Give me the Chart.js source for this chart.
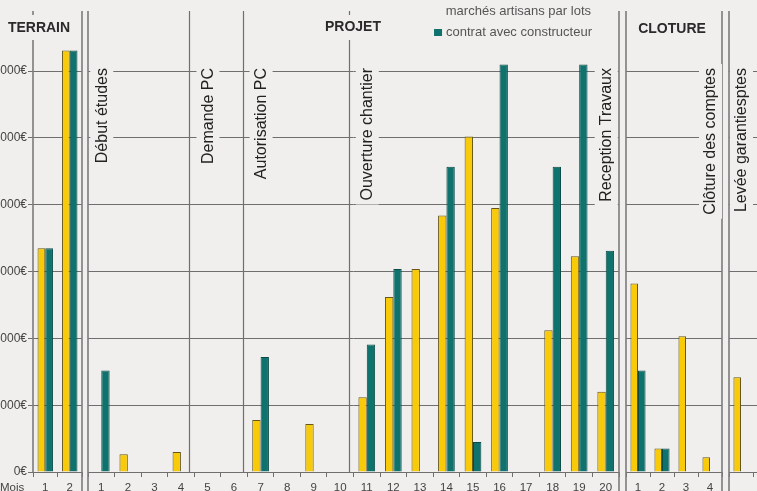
<!DOCTYPE html>
<html>
<head>
<meta charset="utf-8">
<script src="https://cdn.jsdelivr.net/npm/chart.js@4.4.1/dist/chart.umd.min.js"></script>
<style>
  html, body { margin: 0; padding: 0; background: #f1efed; overflow: hidden; }
  #wrap { position: relative; width: 757px; height: 491px; overflow: hidden; background: #f1efed; }
  #wrap canvas { position: absolute; top: 0; left: 0; }
</style>
</head>
<body>
<div id="wrap">
  <canvas id="terrain" width="757" height="491"></canvas>
  <canvas id="projet" width="757" height="491"></canvas>
  <canvas id="cloture" width="757" height="491"></canvas>
  <canvas id="garanties" width="800" height="491"></canvas>
</div>
<script>
const seriesNames = ['marchés artisans par lots', 'contrat avec constructeur'];

const terrainMonths = ['1', '2'];
const terrainArtisans = [33500, 63100];
const terrainConstructeur = [33500, 63100];

const projetMonths = ['1', '2', '3', '4', '5', '6', '7', '8', '9', '10',
                      '11', '12', '13', '14', '15', '16', '17', '18', '19', '20'];
const projetArtisans = [null, 2650, null, 3000, null, null, 7800, null, 7200, null,
                        11200, 26200, 30400, 38400, 50200, 39500, null, 21200, 32300, 12000];
const projetConstructeur = [15200, null, null, null, null, null, 17200, null, null, null,
                            19100, 30400, null, 45700, 4500, 61000, null, 45700, 61000, 33100];

const clotureMonths = ['1', '2', '3', '4'];
const clotureArtisans = [28200, 3500, 20300, 2200];
const clotureConstructeur = [15200, 3500, null, null];

const garantiesMonths = ['1', '2'];
const garantiesArtisans = [14200, null];
const garantiesConstructeur = [null, null];

const yTicks = [0, 10000, 20000, 30000, 40000, 50000, 60000];
const yMax = 69000;

// jalons : libellé, mois où il est écrit, fin de période (trait vertical)
const projetMilestones = [
    { label: 'Début études', month: 1, line: null },
    { label: 'Demande PC', month: 5, line: 3.8 },
    { label: 'Autorisation PC', month: 7, line: 5.83 },
    { label: 'Ouverture chantier', month: 11, line: 9.84 },
    { label: 'Reception Travaux', month: 20, line: null }
];
const clotureMilestones = [
    { label: 'Clôture des comptes', month: 4, line: null }
];
const garantiesMilestones = [
    { label: 'Levée garantiesptes', month: 1, line: null }
];

const BG = '#f1efed';
const GRID = '#6f6f6f';
const BORDER = '#7c7c7c';
const YELLOW = '#f8ca08';
const YELLOW_EDGE = '#65571a';
const TEAL = '#0f726d';
const TEAL_EDGE = '#0a4b47';
const FONT = '"Liberation Sans", Arial, sans-serif';

function euro(v) {
    if (v === 0) return '0€';
    return (v / 1000) + ' 000€';
}

const panelDeco = {
    id: 'panelDeco',
    afterDraw(chart, args, opts) {
        const ctx = chart.ctx;
        const a = chart.chartArea;
        const xs = chart.scales.x;
        ctx.save();

        // bordures du panneau
        ctx.strokeStyle = BORDER;
        ctx.lineWidth = 1.6;
        ctx.beginPath();
        ctx.moveTo(a.left, a.top);
        ctx.lineTo(a.left, opts.axisLeft ? a.bottom : chart.height);
        ctx.moveTo(a.right, a.top);
        ctx.lineTo(a.right, chart.height);
        ctx.stroke();

        // traits des jalons
        ctx.strokeStyle = GRID;
        ctx.lineWidth = 1.2;
        (opts.milestones || []).forEach(m => {
            if (m.line === null) return;
            const px = Math.round(xs.getPixelForValue(m.line - 0.5)) + 0.5;
            ctx.beginPath();
            ctx.moveTo(px, a.top);
            ctx.lineTo(px, a.bottom);
            ctx.stroke();
        });

        // libellés des jalons
        ctx.font = '16px ' + FONT;
        (opts.milestones || []).forEach(m => {
            const cx = xs.getPixelForValue(m.month - 1);
            const top = 68;
            const w = ctx.measureText(m.label).width;
            ctx.fillStyle = BG;
            ctx.fillRect(cx - 11, top - 4, 23, w + 8);
            ctx.save();
            ctx.translate(cx, top);
            ctx.rotate(-Math.PI / 2);
            ctx.fillStyle = '#222';
            ctx.textAlign = 'right';
            ctx.textBaseline = 'middle';
            ctx.fillText(m.label, 0, 1);
            ctx.restore();
        });

        // titre du panneau
        if (opts.title) {
            ctx.font = 'bold 14px ' + FONT;
            const tw = ctx.measureText(opts.title.text).width;
            ctx.fillStyle = BG;
            ctx.fillRect(opts.title.x - tw / 2 - 3, 15, tw + 6, 25);
            ctx.fillStyle = '#2a2a2a';
            ctx.textAlign = 'center';
            ctx.textBaseline = 'middle';
            ctx.fillText(opts.title.text, opts.title.x, opts.title.y);
        }

        if (opts.axisLeft) {
            ctx.font = '11.5px ' + FONT;
            ctx.fillStyle = '#444';
            ctx.textAlign = 'left';
            ctx.textBaseline = 'middle';
            ctx.fillText('Mois', 0, 488);
        }

        if (opts.legend) {
            ctx.font = '13px ' + FONT;
            ctx.fillStyle = '#555';
            ctx.textAlign = 'right';
            ctx.textBaseline = 'middle';
            ctx.fillText(seriesNames[0], 591, 11);
            ctx.fillText(seriesNames[1], 592, 32);
            const w2 = ctx.measureText(seriesNames[1]).width;
            ctx.fillStyle = TEAL;
            ctx.fillRect(592 - w2 - 12, 29, 8, 7);
        }
        ctx.restore();
    }
};

function makePanel(id, months, artisans, constructeur, pad, deco) {
    const withAxis = !!deco.axisLeft;
    return new Chart(document.getElementById(id), {
        type: 'bar',
        data: {
            labels: months,
            datasets: [
                {
                    label: seriesNames[0],
                    data: artisans,
                    backgroundColor: YELLOW,
                    borderColor: YELLOW_EDGE,
                    borderWidth: 1,
                    categoryPercentage: 0.63,
                    barPercentage: 1
                },
                {
                    label: seriesNames[1],
                    data: constructeur,
                    backgroundColor: TEAL,
                    borderColor: TEAL_EDGE,
                    borderWidth: 1,
                    categoryPercentage: 0.63,
                    barPercentage: 1
                }
            ]
        },
        options: {
            responsive: false,
            animation: false,
            devicePixelRatio: 1,
            layout: { padding: { left: pad.left, right: pad.right, top: 11, bottom: 0 } },
            plugins: {
                legend: { display: false },
                tooltip: { enabled: false },
                panelDeco: deco
            },
            scales: {
                x: {
                    grid: { drawOnChartArea: false, color: GRID, tickLength: 5, offset: true },
                    border: { color: GRID, width: 1 },
                    ticks: {
                        display: !deco.hideMonths,
                        color: '#444',
                        font: { family: FONT, size: 11.5 },
                        padding: 4,
                        maxRotation: 0,
                        autoSkip: false
                    },
                    afterFit(scale) { scale.height = 19; }
                },
                y: {
                    min: 0,
                    max: yMax,
                    bounds: 'data',
                    grid: { color: GRID, lineWidth: 1, tickLength: 5, drawTicks: withAxis },
                    border: { display: false },
                    ticks: {
                        display: withAxis,
                        color: '#444',
                        font: { family: FONT, size: 12 },
                        padding: 1,
                        callback: v => euro(v)
                    },
                    afterBuildTicks(scale) {
                        scale.ticks = yTicks.map(v => ({ value: v }));
                    },
                    afterFit(scale) { scale.width = withAxis ? 33 : 0; }
                }
            }
        },
        plugins: [panelDeco]
    });
}

makePanel('terrain', terrainMonths, terrainArtisans, terrainConstructeur,
    { left: 0, right: 757 - 82 },
    { axisLeft: true, title: { text: 'TERRAIN', x: 39, y: 28 } });

makePanel('projet', projetMonths, projetArtisans, projetConstructeur,
    { left: 88, right: 757 - 619 },
    { milestones: projetMilestones, title: { text: 'PROJET', x: 353, y: 27 }, legend: true });

makePanel('cloture', clotureMonths, clotureArtisans, clotureConstructeur,
    { left: 626, right: 757 - 722 },
    { milestones: clotureMilestones, title: { text: 'CLOTURE', x: 672, y: 29 } });

makePanel('garanties', garantiesMonths, garantiesArtisans, garantiesConstructeur,
    { left: 729, right: 800 - 777 },
    { milestones: garantiesMilestones, hideMonths: true });
</script>
</body>
</html>
